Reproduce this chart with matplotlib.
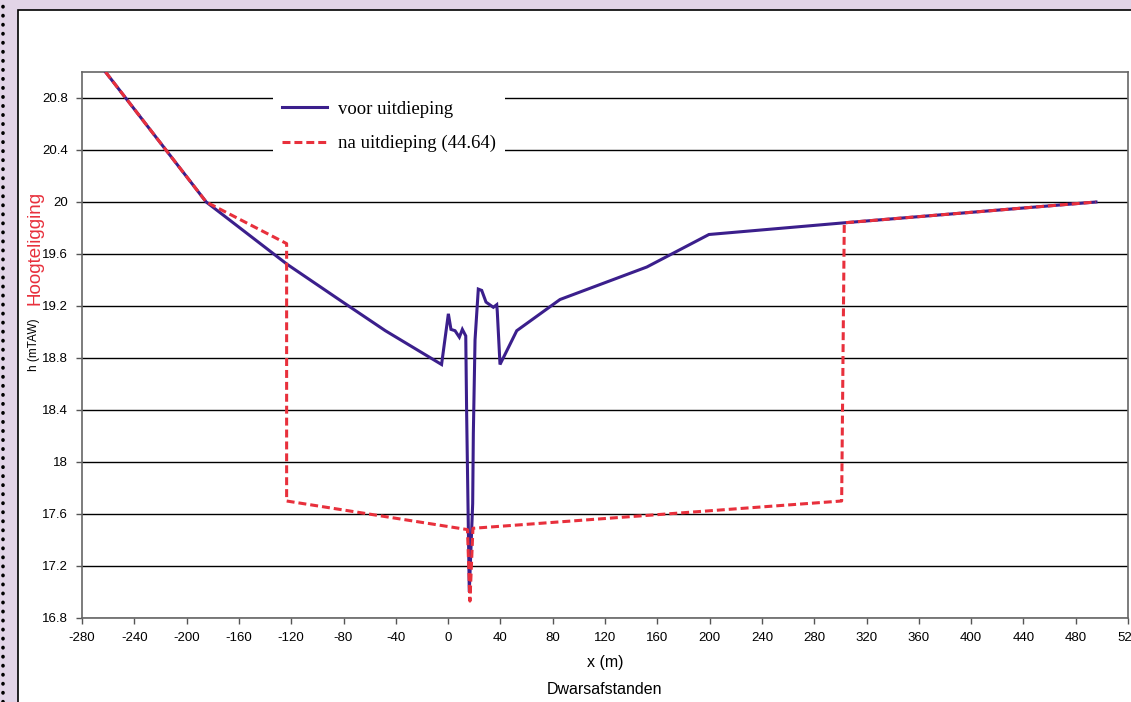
import matplotlib.pyplot as plt
from matplotlib.lines import Line2D
from matplotlib.patches import Rectangle

# Dwarsprofiel: voor en na uitdieping
x_voor = [-262, -185, -123, -82, -48, -5, 0.2, 2.2, 5.3, 8.6, 10.9, 13.5, 14.2,
          15.0, 16.2, 18.8, 19.3, 20.6, 23.1, 25.7, 29.0, 34.6, 37.2, 37.6, 39.7,
          52.5, 85.6, 152, 199.5, 303.0, 495.5]
h_voor = [21.0, 20.0, 19.52, 19.24, 19.01, 18.75, 19.14, 19.02, 19.01, 18.96,
          19.02, 18.97, 18.36, 17.82, 17.0, 17.68, 18.22, 18.94, 19.33, 19.32,
          19.23, 19.19, 19.21, 19.16, 18.75, 19.01, 19.25, 19.5, 19.75, 19.84, 20.0]

x_na = [-262, -185, -123.5, -123.5, 14.8, 16.7, 19.0, 301, 303.0, 495.5]
h_na = [21.0, 20.0, 19.68, 17.7, 17.48, 16.93, 17.49, 17.7, 19.84, 20.0]

label_voor = 'voor uitdieping'
label_na = 'na uitdieping (44.64)'

x_ticks = list(range(-280, 521, 40))
y_ticks = [16.8, 17.2, 17.6, 18.0, 18.4, 18.8, 19.2, 19.6, 20.0, 20.4, 20.8]
y_ticklabels = ['16.8', '17.2', '17.6', '18', '18.4', '18.8', '19.2', '19.6', '20', '20.4', '20.8']

W, H = 1131, 702
fig = plt.figure(figsize=(W / 100, H / 100), dpi=100, facecolor='#e2d4e7')
plt.rcParams['font.family'] = ['Liberation Sans', 'DejaVu Sans']

# white panel with black border, dotted line on the left
fig.patches.append(Rectangle((18 / W, -0.05), 1.1, 1 - 10 / H + 0.05,
                             transform=fig.transFigure, facecolor='white',
                             edgecolor='black', linewidth=1.2, zorder=-5))
fig.lines.append(Line2D([2.5 / W, 2.5 / W], [0, 1], transform=fig.transFigure,
                        color='black', linewidth=2.6, linestyle=(0, (0.1, 2.4)),
                        dash_capstyle='round', zorder=-4))

ax = fig.add_axes([82 / W, 1 - 618 / H, 1046 / W, 546 / H])
ax.set_zorder(2)
ax.set_facecolor('white')

ax.plot(x_voor, h_voor, color='#3b1f8c', linewidth=2.2, label=label_voor,
        solid_joinstyle='miter', zorder=3)
ax.plot(x_na, h_na, color='#e8303c', linewidth=2.2, linestyle=(0, (2.6, 1.3)),
        label=label_na, zorder=4)

ax.set_xlim(-280, 520)
ax.set_ylim(16.8, 21.0)
ax.set_xticks(x_ticks)
ax.set_xticklabels([str(v) for v in x_ticks], fontsize=9.5)
ax.set_yticks(y_ticks)
ax.set_yticklabels(y_ticklabels, fontsize=9.5)
ax.tick_params(direction='out', length=4, width=1, color='#555555', pad=6)
ax.yaxis.grid(True, color='black', linewidth=1.0)
ax.set_axisbelow(True)
for s in ax.spines.values():
    s.set_color('#666666')
    s.set_linewidth(1.2)

leg = ax.legend(loc='upper left', bbox_to_anchor=((273 - 82) / 1046, 1 - (91 - 72) / 546),
                borderaxespad=0, frameon=True, fancybox=False, framealpha=1,
                edgecolor='none', facecolor='white', handlelength=2.4,
                handletextpad=0.55, labelspacing=0.93, borderpad=0.5,
                prop={'family': 'Liberation Serif', 'size': 13.5})
leg.set_zorder(5)

fig.text(605 / W, 1 - 663 / H, 'x (m)', ha='center', va='center', fontsize=11.5)
fig.text(605 / W, 1 - 690 / H, 'Dwarsafstanden', ha='center', va='center', fontsize=11.5)
fig.text(35 / W, 1 - 248 / H, 'Hoogteligging', rotation=90, ha='center', va='center',
         fontsize=13.5, color='#e8303c')
fig.text(34 / W, 1 - 345 / H, 'h (mTAW)', rotation=90, ha='center', va='center',
         fontsize=8.5)

fig.savefig('out.png', dpi=100, facecolor=fig.get_facecolor())
